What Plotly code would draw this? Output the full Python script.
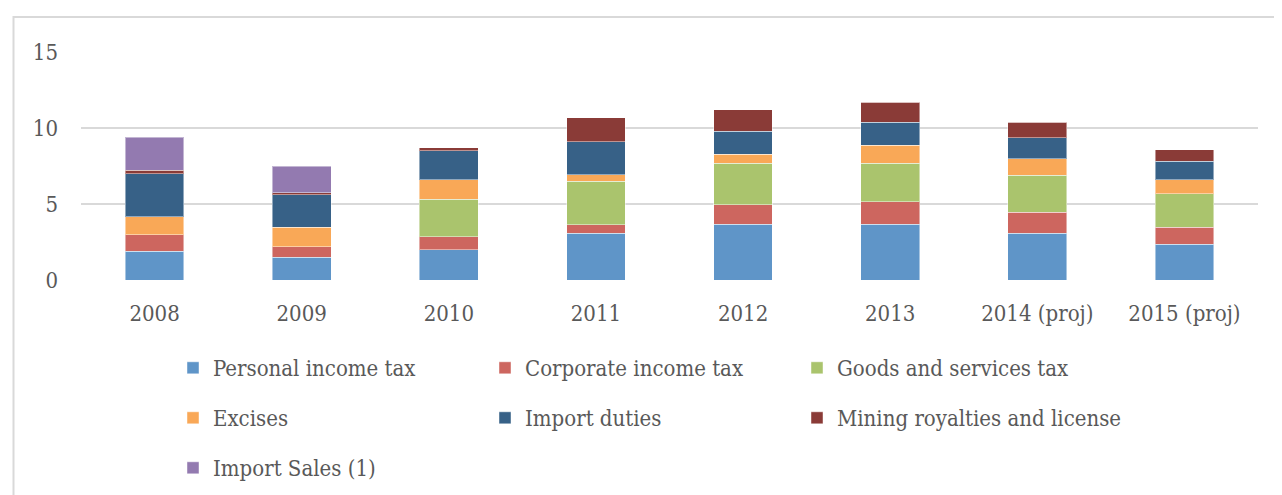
import plotly.graph_objects as go

categories = ["2008", "2009", "2010", "2011", "2012", "2013", "2014 (proj)", "2015 (proj)"]

personal_income_tax = [1.89, 1.50, 2.00, 3.07, 3.66, 3.66, 3.07, 2.34]
corporate_income_tax = [1.10, 0.70, 0.85, 0.57, 1.29, 1.49, 1.40, 1.14]
goods_services_tax = [0.00, 0.00, 2.45, 2.85, 2.74, 2.54, 2.41, 2.21]
excises = [1.18, 1.28, 1.31, 0.42, 0.59, 1.18, 1.09, 0.92]
import_duties = [2.83, 2.12, 1.89, 2.20, 1.51, 1.51, 1.40, 1.19]
mining_royalties = [0.23, 0.14, 0.21, 1.58, 1.42, 1.31, 1.01, 0.76]
import_sales = [2.16, 1.75, 0.00, 0.00, 0.00, 0.00, 0.00, 0.00]

series_names = ["Personal income tax", "Corporate income tax", "Goods and services tax",
                "Excises", "Import duties", "Mining royalties and license", "Import Sales (1)"]
series_values = [personal_income_tax, corporate_income_tax, goods_services_tax,
                 excises, import_duties, mining_royalties, import_sales]
series_colors = ["#5F95C8", "#CD665F", "#AAC46D", "#F9A857", "#376187", "#8A3B37", "#937AB0"]

FONT = "DejaVu Serif Condensed, Liberation Serif, serif"
FS = 22
TXT = "#595959"

# page offset (body margin) compensation
OFF = 8
W, H = 1282, 495
L, R, T, B = 81 - OFF, W - (1258 - OFF), 52 - OFF, H - (280 - OFF)
ph = H - T - B
pw = W - L - R

def py(p):
    return (H - B - (p - OFF)) / ph

def px(p):
    return ((p - OFF) - L) / pw

# legend grid: 3 columns x 3 rows (page pixels of text start / row centre)
col_text_x = [213, 525, 837]
row_y = [368, 418, 468]

fig = go.Figure()
legends = {}
for i, (name, vals, color) in enumerate(zip(series_names, series_values, series_colors)):
    key = "legend" if i == 0 else f"legend{i + 1}"
    fig.add_trace(go.Bar(
        x=categories, y=vals, name=name, legend=key,
        marker=dict(color=color, line=dict(color="rgba(255,255,255,0.45)", width=1)),
    ))
    legends[key] = dict(
        x=px(col_text_x[i % 3] - 40), y=py(row_y[i // 3]),
        xanchor="left", yanchor="middle", orientation="h",
        font=dict(family=FONT, size=FS, color=TXT),
        bgcolor="rgba(0,0,0,0)",
    )

fig.update_layout(
    width=W, height=H,
    margin=dict(l=L, r=R, t=T, b=B, autoexpand=False),
    barmode="stack", bargap=0.6,
    plot_bgcolor="white", paper_bgcolor="white",
    font=dict(family=FONT, size=FS, color=TXT),
    showlegend=True,
    xaxis=dict(showgrid=False, showline=False, zeroline=False,
               tickfont=dict(family=FONT, size=FS, color=TXT),
               ticklabelstandoff=18),
    yaxis=dict(range=[0, 15], tickvals=[0, 5, 10, 15], showgrid=True,
               gridcolor="#D9D9D9", gridwidth=2, zeroline=False, showline=False,
               tickfont=dict(family=FONT, size=FS, color=TXT),
               ticklabelstandoff=22),
    shapes=[dict(type="rect", xref="paper", yref="paper",
                 x0=px(13.5), x1=px(1320), y0=py(530), y1=py(17),
                 line=dict(color="#D9D9D9", width=2), fillcolor="rgba(0,0,0,0)",
                 layer="below")],
    **legends,
)

fig.write_html("out.html")
